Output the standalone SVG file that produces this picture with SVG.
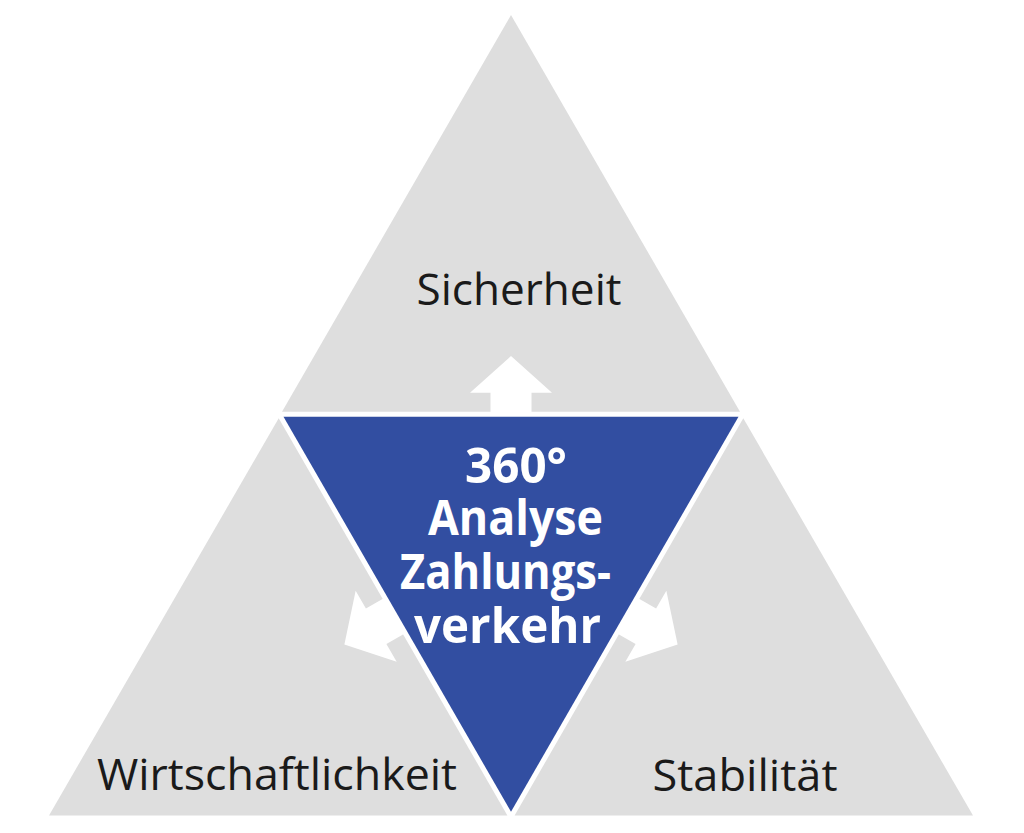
<svg xmlns="http://www.w3.org/2000/svg" width="1024" height="833" viewBox="0 0 1024 833">
  <style>
    .seg { fill: #dedede; }
    .core { fill: #324ea1; }
    .arrow { fill: #ffffff; }
    .lbl { font-family: "Open Sans", "Liberation Sans", sans-serif; font-size: 44px; fill: #1a1a1a; text-anchor: middle; }
    .core-lbl { font-family: "Open Sans", "Liberation Sans", sans-serif; font-size: 49px; font-weight: bold; fill: #ffffff; text-anchor: middle; }
  </style>
  <defs>
    <path id="arr" d="M -20.5,-131 L -20.5,-155.7 L -41,-155.7 L 0,-192.4 L 41,-155.7 L 20.5,-155.7 L 20.5,-131 Z"/>
  </defs>
  <rect x="0" y="0" width="1024" height="833" fill="#ffffff"/>

  <g id="sicherheit">
    <polygon class="seg" points="511,15 740,411.7 282,411.7"/>
    <text class="lbl" x="519" y="305" textLength="205" lengthAdjust="spacingAndGlyphs">Sicherheit</text>
  </g>

  <g id="wirtschaftlichkeit">
    <polygon class="seg" points="278.7,418.3 507.4,815.5 49,815.5"/>
    <text class="lbl" x="277" y="790" textLength="360" lengthAdjust="spacingAndGlyphs">Wirtschaftlichkeit</text>
  </g>

  <g id="stabilitaet">
    <polygon class="seg" points="743.3,418.3 973,815.5 514.6,815.5"/>
    <text class="lbl" x="745" y="791" textLength="185" lengthAdjust="spacingAndGlyphs">Stabilität</text>
  </g>

  <g id="connectors">
    <use href="#arr" class="arrow" transform="translate(511,548.4)"/>
    <use href="#arr" class="arrow" transform="translate(511,548.4) rotate(-120)"/>
    <use href="#arr" class="arrow" transform="translate(511,548.4) rotate(120)"/>
  </g>

  <g id="analyse">
    <polygon class="core" points="283.5,416.7 738.5,416.7 511,811.7"/>
    <text class="core-lbl" x="516" y="483" textLength="102" lengthAdjust="spacingAndGlyphs">360°</text>
    <text class="core-lbl" x="515.5" y="535" textLength="175" lengthAdjust="spacingAndGlyphs">Analyse</text>
    <text class="core-lbl" x="505.5" y="589" textLength="211" lengthAdjust="spacingAndGlyphs">Zahlungs-</text>
    <text class="core-lbl" x="507.5" y="643" textLength="187" lengthAdjust="spacingAndGlyphs">verkehr</text>
  </g>
</svg>
